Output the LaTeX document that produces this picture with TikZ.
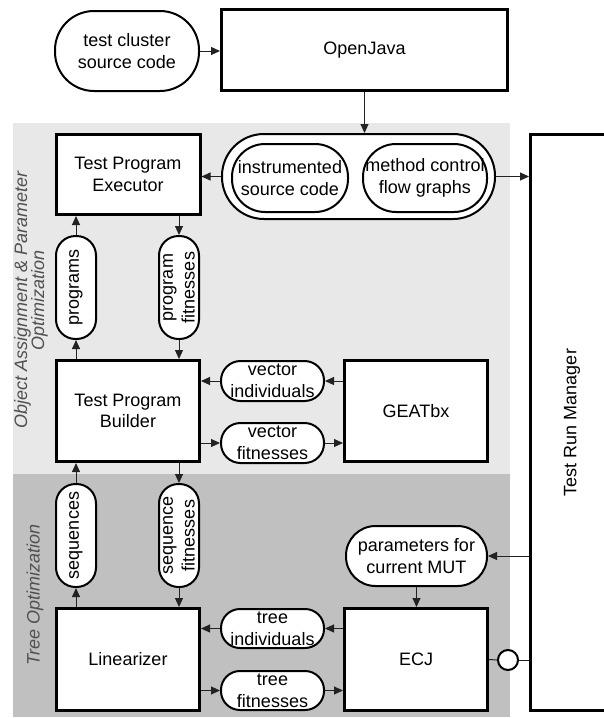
\documentclass[tikz,border=0pt]{standalone}
\usepackage{fontspec}
\setmainfont{Liberation Sans}
\usetikzlibrary{arrows.meta}
\definecolor{lightzone}{HTML}{E8E8E8}
\definecolor{darkzone}{HTML}{C0C0C0}
\definecolor{linkgray}{HTML}{222222}
\definecolor{zonetext}{HTML}{505050}
\begin{document}
\begin{tikzpicture}[x=1pt,y=-1pt,
  every node/.style={font=\fontsize{18}{21.6}\selectfont, align=center, inner sep=0pt},
  block/.style={draw=black, line width=3pt, fill=white},
  pill/.style={draw=black, line width=2pt, fill=white},
  link/.style={draw=linkgray, line width=1pt, -{Triangle[length=9pt,width=8pt]}},
  plain/.style={draw=linkgray, line width=1pt},
  zonelabel/.style={rotate=90, text=zonetext, font=\fontsize{18}{17}\selectfont\itshape}
]
\useasboundingbox (0,0) rectangle (603,718);

% background zones
\fill[lightzone] (13,123) rectangle (510,474);
\fill[darkzone] (13,474) rectangle (510,717);

\node[zonelabel] (zoneA) at (31,300) {Object Assignment \& Parameter\\Optimization};
\node[zonelabel] (zoneB) at (35,595) {Tree Optimization};

% top row
\node[pill, minimum width=144, minimum height=80, rounded corners=39] (tc) at (127,51) {test cluster\\source code};
\node[block, minimum width=286, minimum height=81] (oj) at (364.5,50) {OpenJava};

% instrumentation output
\node[pill, minimum width=273, minimum height=85, rounded corners=42] (outer) at (358.5,176.5) {};
\node[pill, minimum width=116, minimum height=68, rounded corners=33] (instr) at (290,178) {instrumented\\source code};
\node[pill, minimum width=124, minimum height=68, rounded corners=33] (cfg) at (425,178) {method control\\flow graphs};

% main boxes
\node[block, minimum width=144, minimum height=80] (exec) at (128,174.5) {Test Program\\Executor};
\node[block, minimum width=143, minimum height=101] (build) at (128,411) {Test Program\\Builder};
\node[block, minimum width=143, minimum height=101] (geat) at (416,411) {GEATbx};
\node[block, minimum width=143, minimum height=102] (lin) at (128,659.5) {Linearizer};
\node[block, minimum width=143, minimum height=102] (ecj) at (416,659.5) {ECJ};
\node[block, rotate=90, minimum width=576, minimum height=83] (trm) at (572,422.5) {Test Run Manager};

% vertical data capsules
\node[pill, rotate=90, minimum width=103, minimum height=40, rounded corners=19.5] (prog) at (76,287.5) {programs};
\node[pill, rotate=90, minimum width=103, minimum height=40, rounded corners=19.5] (pfit) at (179,287.5) {program\\fitnesses};
\node[pill, rotate=90, minimum width=103, minimum height=40, rounded corners=19.5] (seq) at (76,535.5) {sequences};
\node[pill, rotate=90, minimum width=103, minimum height=40, rounded corners=19.5] (sfit) at (179,535.5) {sequence\\fitnesses};

% horizontal data capsules
\node[pill, minimum width=103, minimum height=40, rounded corners=19.5] (vind) at (272.5,381) {vector\\individuals};
\node[pill, minimum width=103, minimum height=40, rounded corners=19.5] (vfit) at (272.5,443) {vector\\fitnesses};
\node[pill, minimum width=103, minimum height=39, rounded corners=19] (tind) at (272.5,628.5) {tree\\individuals};
\node[pill, minimum width=103, minimum height=39, rounded corners=19] (tfit) at (272.5,690.5) {tree\\fitnesses};
\node[pill, minimum width=141, minimum height=60, rounded corners=29.5] (param) at (416.5,556) {parameters for\\current MUT};

% connectors
\draw[link] (tc.east) -- (tc.east -| oj.west);
\draw[link] (oj.south) -- (oj.south |- outer.north);
\draw[link] (outer.west) -- (outer.west -| exec.east);
\draw[link] (outer.east) -- (outer.east -| trm.north);

\draw[link] (build.north -| prog) -- (prog.west);
\draw[link] (prog.east) -- (exec.south -| prog);
\draw[link] (exec.south -| pfit) -- (pfit.east);
\draw[link] (pfit.west) -- (build.north -| pfit);

\draw[link] (geat.west |- vind) -- (vind.east);
\draw[link] (vind.west) -- (vind.west -| build.east);
\draw[link] (build.east |- vfit) -- (vfit.west);
\draw[link] (vfit.east) -- (vfit.east -| geat.west);

\draw[link] (lin.north -| seq) -- (seq.west);
\draw[link] (seq.east) -- (build.south -| seq);
\draw[link] (build.south -| sfit) -- (sfit.east);
\draw[link] (sfit.west) -- (lin.north -| sfit);

\draw[link] (ecj.west |- tind) -- (tind.east);
\draw[link] (tind.west) -- (tind.west -| lin.east);
\draw[link] (lin.east |- tfit) -- (tfit.west);
\draw[link] (tfit.east) -- (tfit.east -| ecj.west);

\draw[link] (param.east -| trm.north) -- (param.east);
\draw[link] (param.south) -- (param.south |- ecj.north);

\node[pill, circle, minimum size=20] (port) at (508,660) {};
\draw[plain] (ecj.east) -- (port.west);
\draw[plain] (port.east) -- (port.east -| trm.north);
\end{tikzpicture}
\end{document}
